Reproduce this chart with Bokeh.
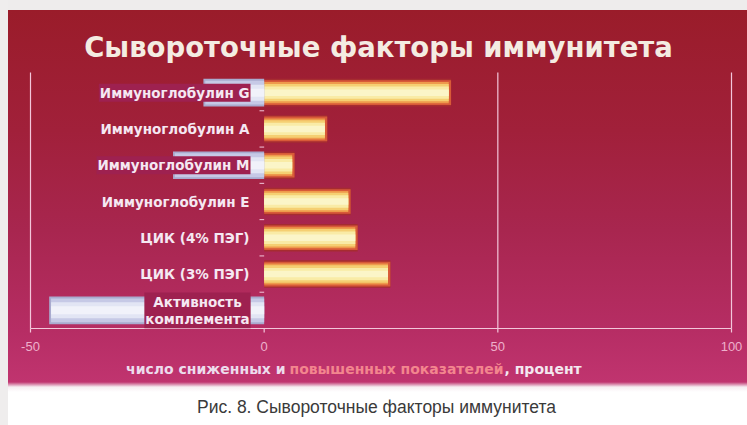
from bokeh.plotting import figure
from bokeh.models import ColumnDataSource, Label, Range1d
from bokeh.core.properties import value
from bokeh.embed import file_html
from bokeh.resources import INLINE

# ---- data ----
categories = ["Иммуноглобулин G", "Иммуноглобулин А", "Иммуноглобулин М",
              "Иммуноглобулин Е", "ЦИК (4% ПЭГ)", "ЦИК (3% ПЭГ)",
              "Активность комплемента"]
raised = [40, 13.5, 6.5, 18.5, 20, 27, 0]          # повышенные, %
lowered = [-13, 0, -19.5, 0, 0, 0, -46]            # сниженные, %
x_ticks = [-50, 0, 50, 100]

title_text = "Сывороточные факторы иммунитета"
caption_text = "Рис. 8. Сывороточные факторы иммунитета"
xlab_parts = ["число сниженных и", "повышенных показателей", ", процент"]

# ---- layout geometry (pixels of the 747x425 canvas) ----
W, H = 747, 425
PX_L, PX_R = 30, 731          # pixel of x=-50 and x=100
PY_TOP, PY_AX = 74, 328       # top of category band, x-axis line
n = len(categories)
xs = (PX_R - PX_L) / (x_ticks[-1] - x_ticks[0])
rs = (PY_AX - PY_TOP) / n


def px2x(px):
    return x_ticks[0] + (px - PX_L) / xs


def py2y(py):          # row units, row i centred at i
    return (py - PY_TOP) / rs - 0.5


p = figure(width=W, height=H, output_backend="svg", toolbar_location=None,
           x_range=Range1d(px2x(0), px2x(W)),
           y_range=Range1d(py2y(H), py2y(0)),
           x_axis_location=None, y_axis_location=None, title=None,
           min_border=0, min_border_left=0, min_border_right=0,
           min_border_top=0, min_border_bottom=0)
p.background_fill_alpha = 0
p.border_fill_alpha = 0
p.outline_line_color = None
p.xgrid.visible = False
p.ygrid.visible = False
p.styles = {"background":
            "linear-gradient(90deg, #efeded 0px, #efeded 8px, transparent 8px), "
            "linear-gradient(180deg, #eeecec 0px, #eeecec 10px, "
            "#9a1c2a 10px, #a1203a 130px, #a8264f 230px, "
            "#b62d64 330px, #c0346f 382px, #f6eef2 387px, #ffffff 392px, #ffffff 100%)"}

rows = list(range(n))
GRID = "#f3c6da"
y_top, y_ax = py2y(PY_TOP - 2), py2y(PY_AX)

# grid lines, axis line, ticks
gx = [t for t in x_ticks if t != 0]
p.segment(x0=gx, x1=gx, y0=[y_top] * len(gx), y1=[y_ax] * len(gx),
          line_color=GRID, line_width=1.2)
p.segment(x0=[x_ticks[0]], x1=[x_ticks[-1]], y0=[y_ax], y1=[y_ax],
          line_color=GRID, line_width=1.2)
p.segment(x0=x_ticks, x1=x_ticks, y0=[y_ax] * len(x_ticks),
          y1=[py2y(PY_AX + 4)] * len(x_ticks), line_color=GRID, line_width=1.2)
bnd = [r + 0.5 for r in rows[:-1]]
p.segment(x0=[0] * len(bnd), x1=[px2x(259)] * len(bnd),
          y0=bnd, y1=bnd, line_color=GRID, line_width=1)
p.text(x=x_ticks, y=[py2y(346)] * len(x_ticks), text=[str(t) for t in x_ticks],
       text_align="center", text_baseline="middle",
       text_font=value("Liberation Sans"), text_font_size="13px",
       text_color="#eeb0cc")

# ---- bars ----
src = ColumnDataSource(dict(row=rows, pos=raised, neg=lowered))
src.data["pos_in"] = [max(v - 0.5, 0) for v in raised]
src.data["neg_in"] = [min(v + 0.4, 0) for v in lowered]

pos_layers = [(0.76, "#a62c30", "pos"), (0.68, "#d85a38", "pos"),
              (0.58, "#ee9a4c", "pos_in"), (0.48, "#f5cf72", "pos_in"),
              (0.34, "#f9eba6", "pos_in"), (0.18, "#fbf5c8", "pos_in")]
for h, c, col in pos_layers:
    p.hbar(y="row", left=0, right=col, height=h, source=src,
           fill_color=c, line_color=None)

neg_layers = [(0.76, "#a9abcf", "neg"), (0.66, "#c6c9e6", "neg_in"),
              (0.44, "#e2e5f4", "neg_in"), (0.22, "#f1f2fa", "neg_in")]
for h, c, col in neg_layers:
    p.hbar(y="row", left=col, right=0, height=h, source=src,
           fill_color=c, line_color=None)

# ---- category labels ----
lab_text, lab_x, lab_align, lab_bg = [], [], [], []
for c, v in zip(categories, lowered):
    if c == "Активность комплемента":
        lab_text.append("Активность\nкомплемента")
        lab_x.append(px2x(197))
        lab_align.append("center")
    else:
        lab_text.append(c)
        lab_x.append(px2x(250))
        lab_align.append("right")
    lab_bg.append("#9e2150" if v < 0 else "rgba(0,0,0,0)")
lsrc = ColumnDataSource(dict(row=rows, x=lab_x, t=lab_text,
                             a=lab_align, bg=lab_bg))
p.text(x="x", y="row", text="t", source=lsrc, text_align="a",
       text_baseline="middle", text_font=value("DejaVu Sans"),
       text_font_style="bold", text_font_size="13.5px",
       text_color="#f5e8f2", text_line_height=1.1,
       background_fill_color="bg", padding=1)

# ---- title, axis title, caption ----
p.add_layout(Label(x=px2x(378), y=py2y(46), text=title_text,
                   text_align="center", text_baseline="middle",
                   text_font="DejaVu Sans", text_font_style="bold",
                   text_font_size="27.5px", text_color="#f4ece2"))

xl_cols = ["#eddcec", "#f3868e", "#f4e8f0"]
xl_pos = [(285, "right"), (396, "center"), (504, "left")]
for t, c, (xx, al) in zip(xlab_parts, xl_cols, xl_pos):
    p.add_layout(Label(x=px2x(xx), y=py2y(368), text=t, text_align=al,
                       text_baseline="middle", text_font="DejaVu Sans",
                       text_font_style="bold", text_font_size="14px",
                       text_color=c))

p.add_layout(Label(x=px2x(376), y=py2y(406), text=caption_text,
                   text_align="center", text_baseline="middle",
                   text_font="Liberation Sans", text_font_size="17.5px",
                   text_color="#3a3a3a"))

open("out.html", "w").write(file_html(p, INLINE))
